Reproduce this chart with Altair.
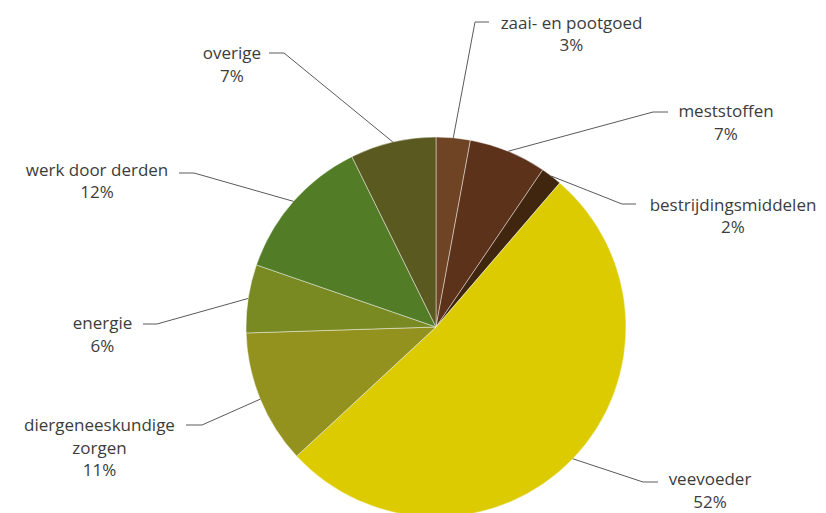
import altair as alt
import pandas as pd
import numpy as np

# ---- data ----
categories = [
    "zaai- en pootgoed",
    "meststoffen",
    "bestrijdingsmiddelen",
    "veevoeder",
    "diergeneeskundige zorgen",
    "energie",
    "werk door derden",
    "overige",
]
shares = [2.9, 6.6, 1.8, 51.8, 11.4, 5.8, 12.4, 7.3]
label_names = [
    "zaai- en pootgoed",
    "meststoffen",
    "bestrijdingsmiddelen",
    "veevoeder",
    "diergeneeskundige\nzorgen",
    "energie",
    "werk door derden",
    "overige",
]

# ---- styles / layout ----
colors = ["#6F4425", "#5C321A", "#40250F", "#DCCB00",
          "#94921F", "#7A8A23", "#537C27", "#5A5A20"]
W, H = 810, 505
CX, CY = 428, 319          # pie centre inside the view
R = 190
# label layout relative to pie centre: (elbow_x, elbow_y, end_x, end_y, text_x, text_baseline_y)
layout = [
    (39, -305, 53, -305, 135.5, -298.5),
    (217, -215, 232, -215, 290, -210),
    (186, -123, 200, -123, 297, -116.5),
    (207, 155, 222, 155, 274, 158),
    (-234, 98, -250, 98, -336.5, 104),
    (-279, -3, -293, -3, -333.5, 2),
    (-242, -154, -257, -154, -339, -151.5),
    (-152, -274, -167, -274, -204, -268),
]

total = sum(shares)
pie_df = pd.DataFrame({"cat": categories, "share": shares, "idx": range(len(categories))})

# leader lines: start at slice mid-angle on the rim
line_rows = []
cum = 0.0
for i, (c, s) in enumerate(zip(categories, shares)):
    mid = (cum + s / 2) / total * 2 * np.pi
    cum += s
    ex, ey, nx, ny, _, _ = layout[i]
    pts = [(R * np.sin(mid), -R * np.cos(mid)), (ex, ey), (nx, ny)]
    for k, (px, py) in enumerate(pts):
        line_rows.append({"cat": c, "pt": k, "px": float(px), "py": float(py)})
line_df = pd.DataFrame(line_rows)

text_df = pd.DataFrame({
    "cat": categories,
    "label": [f"{n}\n{round(v)}%" for n, v in zip(label_names, shares)],
    "tx": [l[4] for l in layout],
    "ty": [l[5] for l in layout],
})

xscale = alt.Scale(domain=[-CX, W - CX], nice=False, zero=False)
yscale = alt.Scale(domain=[-CY, H - CY], nice=False, zero=False, reverse=True)

pie = alt.Chart(pie_df).mark_arc(
    outerRadius=R, stroke="#ffffff", strokeWidth=0.8, strokeOpacity=0.55
).encode(
    theta=alt.Theta("share:Q", stack=True),
    color=alt.Color("cat:N", scale=alt.Scale(domain=categories, range=colors), legend=None),
    order=alt.Order("idx:Q"),
    x=alt.datum(0, scale=xscale, axis=None),
    y=alt.datum(0, scale=yscale, axis=None),
)

lines = alt.Chart(line_df).mark_line(color="#5a5a5a", strokeWidth=1).encode(
    x=alt.X("px:Q", scale=xscale, axis=None),
    y=alt.Y("py:Q", scale=yscale, axis=None),
    detail="cat:N",
    order="pt:Q",
)

texts = alt.Chart(text_df).transform_calculate(
    lines="split(datum.label, '\\n')"
).mark_text(
    font="Open Sans", fontSize=17, color="#3c3c3c", align="center",
    baseline="alphabetic", lineHeight=22.5
).encode(
    x=alt.X("tx:Q", scale=xscale, axis=None),
    y=alt.Y("ty:Q", scale=yscale, axis=None),
    text=alt.Text("lines:N"),
)

chart = alt.layer(pie, lines, texts).properties(
    width=W, height=H,
    autosize=alt.AutoSizeParams(type="none"),
    padding=0,
    background="#ffffff",
).configure_view(stroke=None)

chart.save("out.html", embed_options={"renderer": "svg", "actions": False})
